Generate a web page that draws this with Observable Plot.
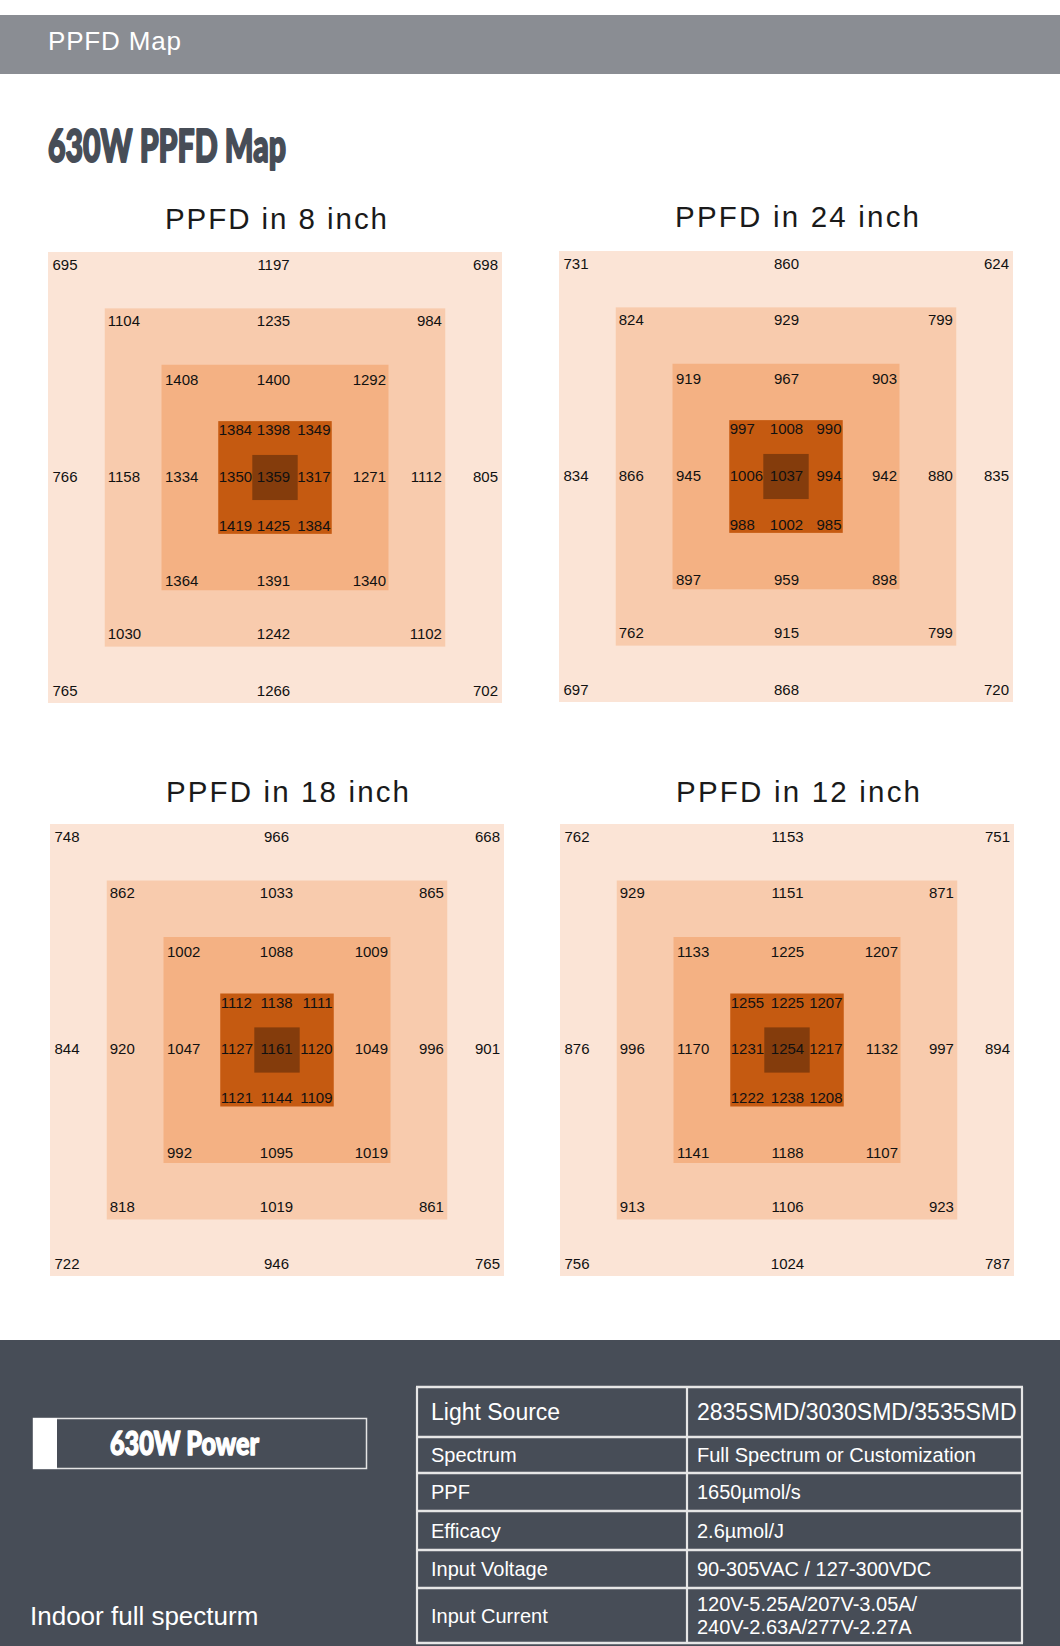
<!DOCTYPE html>
<html><head><meta charset="utf-8">
<script src="https://cdn.jsdelivr.net/npm/d3@7"></script>
<script src="https://cdn.jsdelivr.net/npm/@observablehq/plot@0.6"></script>
<style>
html,body{margin:0;padding:0;background:#fff;}
#page{position:relative;width:1060px;height:1646px;overflow:hidden;}
#page svg.bg{position:absolute;left:0;top:0;}
.panel{position:absolute;line-height:0;}
</style></head><body><div id="page"></div>
<script>
// ---------- data ----------
const headerText = "PPFD Map";
const mainTitle = "630W PPFD Map";
const panelTitles = ["PPFD in 8 inch", "PPFD in 24 inch", "PPFD in 18 inch", "PPFD in 12 inch"];

// rows of readings, top to bottom, as printed on each map
const ppfd8 = [
  [695, 1197, 698],
  [1104, 1235, 984],
  [1408, 1400, 1292],
  [1384, 1398, 1349],
  [766, 1158, 1334, 1350, 1359, 1317, 1271, 1112, 805],
  [1419, 1425, 1384],
  [1364, 1391, 1340],
  [1030, 1242, 1102],
  [765, 1266, 702]
];
const ppfd24 = [
  [731, 860, 624],
  [824, 929, 799],
  [919, 967, 903],
  [997, 1008, 990],
  [834, 866, 945, 1006, 1037, 994, 942, 880, 835],
  [988, 1002, 985],
  [897, 959, 898],
  [762, 915, 799],
  [697, 868, 720]
];
const ppfd18 = [
  [748, 966, 668],
  [862, 1033, 865],
  [1002, 1088, 1009],
  [1112, 1138, 1111],
  [844, 920, 1047, 1127, 1161, 1120, 1049, 996, 901],
  [1121, 1144, 1109],
  [992, 1095, 1019],
  [818, 1019, 861],
  [722, 946, 765]
];
const ppfd12 = [
  [762, 1153, 751],
  [929, 1151, 871],
  [1133, 1225, 1207],
  [1255, 1225, 1207],
  [876, 996, 1170, 1231, 1254, 1217, 1132, 997, 894],
  [1222, 1238, 1208],
  [1141, 1188, 1107],
  [913, 1106, 923],
  [756, 1024, 787]
];
const panelData = [ppfd8, ppfd24, ppfd18, ppfd12];

const ringColors = ["#fbe4d6", "#f8cbad", "#f4b183", "#c55a11", "#843c0c"];

const powerLabel = "630W Power";
const subLabel = "Indoor full specturm";
const specLabels = ["Light Source", "Spectrum", "PPF", "Efficacy", "Input Voltage", "Input Current"];
const specValues = [
  ["2835SMD/3030SMD/3535SMD"],
  ["Full Spectrum or Customization"],
  ["1650\u00b5mol/s"],
  ["2.6\u00b5mol/J"],
  ["90-305VAC / 127-300VDC"],
  ["120V-5.25A/207V-3.05A/", "240V-2.63A/277V-2.27A"]
];

// ---------- layout ----------
const FONT = "'Liberation Sans', Arial, Helvetica, sans-serif";
const HEAVY = "Lato, Roboto, 'DejaVu Sans', sans-serif";
const panelBoxes = [
  {left: 48, top: 252, w: 454, h: 451, cx: -2},
  {left: 559, top: 251, w: 454, h: 451, cx: 0},
  {left: 50, top: 824, w: 454, h: 452, cx: -1},
  {left: 560, top: 824, w: 454, h: 452, cx: 0}
];
const titleBoxes = [
  {x: 165, y: 229, len: 222},
  {x: 675, y: 227, len: 244},
  {x: 166, y: 802, len: 243},
  {x: 676, y: 802, len: 244}
];
const tableX = [417, 687, 1022];
const tableY = [1387, 1437, 1473, 1511, 1550, 1588, 1643];

const page = document.getElementById("page");

// ---------- static background / text ----------
const svg = d3.create("svg").attr("class", "bg").attr("width", 1060).attr("height", 1646);
svg.append("rect").attr("x", 0).attr("y", 15).attr("width", 1060).attr("height", 59).attr("fill", "#8a8d93");
svg.append("text").attr("x", 48).attr("y", 50).attr("font-family", FONT).attr("font-size", 26)
  .attr("textLength", 133).attr("lengthAdjust", "spacing").attr("fill", "#fff").text(headerText);

svg.append("text").attr("x", 48).attr("y", 162).attr("font-family", HEAVY).attr("font-weight", 900)
  .attr("font-size", 45).attr("textLength", 238).attr("lengthAdjust", "spacingAndGlyphs")
  .attr("fill", "#474d57").attr("stroke", "#474d57").attr("stroke-width", 2).attr("stroke-linejoin", "round")
  .text(mainTitle);

titleBoxes.forEach((t, i) => {
  svg.append("text").attr("x", t.x).attr("y", t.y).attr("font-family", FONT).attr("font-size", 29.5)
    .attr("textLength", t.len).attr("lengthAdjust", "spacing").attr("fill", "#1a1a1a").text(panelTitles[i]);
});

// bottom section
svg.append("rect").attr("x", 0).attr("y", 1340).attr("width", 1060).attr("height", 306).attr("fill", "#474d57");
svg.append("rect").attr("x", 33.5).attr("y", 1418.5).attr("width", 333).attr("height", 50)
  .attr("fill", "none").attr("stroke", "#e4e4e4").attr("stroke-width", 1.5);
svg.append("rect").attr("x", 33).attr("y", 1418).attr("width", 24).attr("height", 51).attr("fill", "#fff");
svg.append("text").attr("x", 110).attr("y", 1455).attr("font-family", HEAVY).attr("font-weight", 900)
  .attr("font-size", 32).attr("textLength", 149).attr("lengthAdjust", "spacingAndGlyphs")
  .attr("fill", "#fff").attr("stroke", "#fff").attr("stroke-width", 1.4).attr("stroke-linejoin", "round")
  .text(powerLabel);
svg.append("text").attr("x", 30).attr("y", 1625).attr("font-family", FONT).attr("font-size", 26)
  .attr("fill", "#fff").text(subLabel);

// spec table
const lineCol = "#e6e6e6";
tableY.forEach(y => svg.append("line").attr("x1", tableX[0] - 1).attr("x2", tableX[2] + 1).attr("y1", y).attr("y2", y)
  .attr("stroke", lineCol).attr("stroke-width", 2.4));
tableX.forEach(x => svg.append("line").attr("x1", x).attr("x2", x).attr("y1", tableY[0]).attr("y2", tableY[tableY.length - 1])
  .attr("stroke", lineCol).attr("stroke-width", 2.2));
specLabels.forEach((lab, i) => {
  const y0 = tableY[i], y1 = tableY[i + 1], mid = (y0 + y1) / 2;
  const fs = i === 0 ? 23 : 20;
  svg.append("text").attr("x", 431).attr("y", mid + fs * 0.36).attr("font-family", FONT).attr("font-size", fs)
    .attr("fill", "#fff").text(lab);
  const vals = specValues[i];
  const lh = 23;
  vals.forEach((v, j) => {
    const yy = mid + fs * 0.36 + (j - (vals.length - 1) / 2) * lh;
    svg.append("text").attr("x", 697).attr("y", yy).attr("font-family", FONT).attr("font-size", fs)
      .attr("fill", "#fff").text(v);
  });
});
page.appendChild(svg.node());

// ---------- PPFD maps with Plot ----------
const padL = [4, 2.5, 3, 0], padR = [4.5, 3.8, 3, 1.7];
const offT = [12.5, 12.5, 14.5, 9], offB = [12.5, 13, 10, 8.5];

function cellsOf(rows, ux, uy, cx) {
  const out = [];
  rows.forEach((vals, r) => {
    const cols = r === 4 ? vals.map((_, c) => c) : [Math.min(r, 8 - r), 4, 8 - Math.min(r, 8 - r)];
    vals.forEach((v, i) => {
      const c = cols[i];
      let x, anchor;
      if (c < 4) { x = c + padL[c] / ux; anchor = "start"; }
      else if (c > 4) { x = c - padR[8 - c] / ux; anchor = "end"; }
      else { x = 4 + cx / ux; anchor = "middle"; }
      let y;
      if (r < 4) y = r + offT[r] / uy;
      else if (r > 4) y = r - offB[8 - r] / uy;
      else y = 4 - 1 / uy;
      out.push({v, x, y, anchor});
    });
  });
  return out;
}

panelData.forEach((rows, i) => {
  const b = panelBoxes[i];
  const ux = b.w / 8, uy = b.h / 8;
  const rings = [0, 1, 2, 3].map(k => ({k, x1: k, x2: 8 - k, y1: k, y2: 8 - k}));
  rings.push({k: 4, x1: 3.6, x2: 4.4, y1: 3.6, y2: 4.4});
  const cells = cellsOf(rows, ux, uy, b.cx);
  const textMark = a => Plot.text(cells.filter(d => d.anchor === a), {
    x: "x", y: "y", text: d => String(d.v), textAnchor: a, fontSize: 15, fill: "#111"
  });
  const chart = Plot.plot({
    width: b.w, height: b.h, margin: 0,
    x: {domain: [0, 8], axis: null},
    y: {domain: [0, 8], reverse: true, axis: null},
    color: {type: "ordinal", domain: [0, 1, 2, 3, 4], range: ringColors},
    style: {fontFamily: FONT, background: "transparent", overflow: "visible"},
    marks: [
      Plot.rect(rings, {x1: "x1", x2: "x2", y1: "y1", y2: "y2", fill: "k"}),
      textMark("start"), textMark("middle"), textMark("end")
    ]
  });
  const wrap = document.createElement("div");
  wrap.className = "panel";
  wrap.style.left = b.left + "px";
  wrap.style.top = b.top + "px";
  wrap.appendChild(chart);
  page.appendChild(wrap);
});
</script></body></html>
